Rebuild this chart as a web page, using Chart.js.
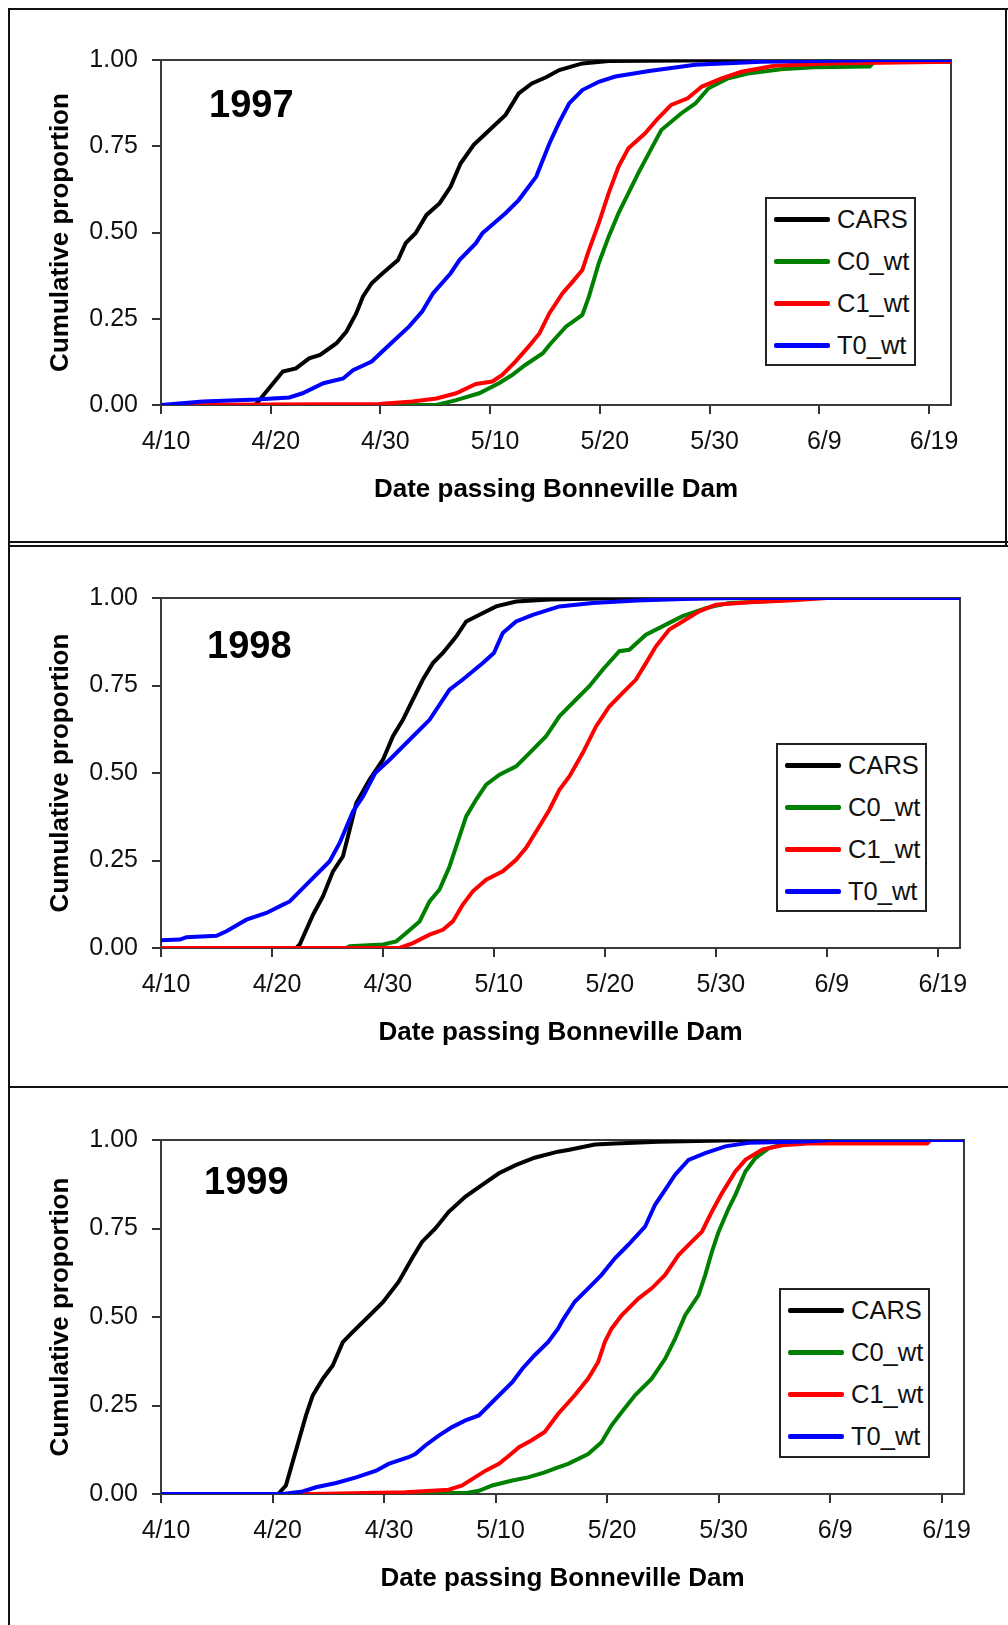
<!DOCTYPE html>
<html>
<head>
<meta charset="utf-8">
<script src="https://cdn.jsdelivr.net/npm/chart.js@4.4.0/dist/chart.umd.min.js"></script>
<style>
    body { margin: 0; background: #fff; width: 1008px; height: 1625px; position: relative; overflow: hidden;
           font-family: 'Liberation Sans', Arial, sans-serif; }
    canvas { position: absolute; left: 0; }
    .rule { position: absolute; background: #111; z-index: 2; }
    .year { position: absolute; font-weight: bold; font-size: 38px; line-height: 38px; color: #000; }
    .legend { position: absolute; border: 2px solid #222; box-sizing: border-box; background: #fff; }
    .legend .row { position: absolute; left: 0; height: 42px; display: flex; align-items: center;
                   font-size: 25.5px; color: #111; white-space: nowrap; }
    .legend .swatch { width: 56px; height: 5px; margin-left: 7px; margin-right: 7px; border-radius: 2px; }
</style>
</head>
<body>
<div class="rule" style="left:8px;top:8px;width:2px;height:1617px"></div>
<div class="rule" style="left:8px;top:8px;width:1000px;height:2px"></div>
<div class="rule" style="left:1005px;top:8px;width:2px;height:537px"></div>
<div class="rule" style="left:8px;top:541px;width:1000px;height:1.5px"></div>
<div class="rule" style="left:8px;top:545px;width:1000px;height:1.5px"></div>
<div class="rule" style="left:8px;top:1086px;width:1000px;height:2px"></div>

<canvas id="chart1997"></canvas>
<canvas id="chart1998"></canvas>
<canvas id="chart1999"></canvas>

<script>
// days counted from 4/10 (day 0), value = cumulative proportion
const dateTicks = ['4/10', '4/20', '4/30', '5/10', '5/20', '5/30', '6/9', '6/19']
const seriesNames = ['CARS', 'C0_wt', 'C1_wt', 'T0_wt']
const seriesColors = ['#000000', '#008000', '#ff0000', '#0000ff']

const cars1997 = [[0,0],[8.6,0],[11.1,0.097],[12.3,0.106],[13.5,0.135],[14.5,0.145],[16,0.179],[16.9,0.213],
    [17.8,0.266],[18.4,0.314],[19.2,0.353],[20.2,0.382],[21.6,0.42],[22.3,0.469],[23.2,0.498],[24.2,0.551],
    [25.4,0.585],[26.4,0.633],[27.3,0.7],[28.5,0.754],[29.6,0.787],[31.4,0.841],[32.6,0.903],[33.8,0.932],
    [35.1,0.95],[36.3,0.971],[38.4,0.99],[40.8,0.997],[54.7,1],[72,1]]
const c0wt1997 = [[0,0],[25.1,0],[26.9,0.014],[29,0.034],[30.8,0.063],[32,0.087],[33.2,0.116],[34.8,0.15],
    [35.4,0.174],[36.9,0.227],[38.4,0.261],[39,0.314],[39.9,0.411],[40.8,0.488],[41.7,0.556],[42.6,0.614],
    [43.5,0.672],[44.7,0.744],[45.6,0.797],[47.4,0.845],[48.7,0.874],[49.9,0.918],[51.7,0.947],[53.5,0.961],
    [56.5,0.973],[59.5,0.979],[64.6,0.981],[65,0.995],[72,0.995]]
const c1wt1997 = [[0,0],[19.9,0.003],[22.9,0.01],[25.1,0.019],[26.9,0.034],[28.7,0.061],[30.2,0.068],[31.1,0.087],
    [32.3,0.126],[33.5,0.169],[34.5,0.208],[35.4,0.266],[36.6,0.324],[37.5,0.357],[38.4,0.391],[39,0.449],
    [39.9,0.527],[40.8,0.614],[41.7,0.691],[42.6,0.744],[44.1,0.787],[45.3,0.831],[46.5,0.87],[48,0.889],
    [49.3,0.923],[51.1,0.947],[52.9,0.966],[55.9,0.983],[61.1,0.99],[72,0.995]]
const t0wt1997 = [[0,0],[3.8,0.01],[8.7,0.016],[11.7,0.022],[12.9,0.034],[14.8,0.063],[16.6,0.077],[17.5,0.101],
    [19.2,0.126],[20.8,0.174],[22.6,0.227],[23.8,0.271],[24.8,0.324],[26.4,0.382],[27.2,0.42],[28.7,0.469],
    [29.3,0.498],[30.5,0.531],[31.4,0.556],[32.6,0.594],[34.2,0.662],[34.8,0.71],[35.4,0.758],[36.3,0.82],
    [37.2,0.874],[38.4,0.913],[39.9,0.937],[41.4,0.952],[44.5,0.968],[48.7,0.986],[54.7,0.995],[65.6,1],[72,1]]

const cars1998 = [[0,0],[12.2,0],[12.5,0.01],[13.7,0.095],[14.6,0.148],[15.5,0.219],[16.4,0.262],[17,0.338],
    [17.6,0.414],[18.8,0.481],[20,0.538],[20.9,0.605],[21.8,0.652],[22.7,0.71],[23.6,0.767],[24.5,0.814],
    [25.4,0.843],[26.6,0.89],[27.5,0.933],[28.7,0.952],[30.2,0.976],[32,0.99],[35,0.996],[42,1],[72,1]]
const c0wt1998 = [[0,0],[16.7,0],[17,0.005],[20,0.01],[21.2,0.019],[22.1,0.043],[23.3,0.076],[24.2,0.133],
    [25.1,0.167],[26,0.233],[26.9,0.319],[27.5,0.376],[28.4,0.424],[29.3,0.467],[30.5,0.495],[32,0.519],
    [33.2,0.557],[34.7,0.605],[35.9,0.662],[37.4,0.71],[38.6,0.748],[39.8,0.795],[41.3,0.848],[42.2,0.852],
    [43.7,0.895],[45.5,0.924],[47,0.948],[49.1,0.971],[51.2,0.986],[54.2,0.99],[59,1],[72,1]]
const c1wt1998 = [[0,0],[21.5,0],[22.7,0.014],[24.2,0.038],[25.4,0.052],[26.3,0.076],[27.2,0.124],[28.1,0.162],
    [29.3,0.195],[30.8,0.219],[32,0.252],[32.9,0.286],[34.1,0.348],[35,0.395],[35.9,0.452],[36.8,0.49],
    [38,0.557],[39.2,0.633],[40.4,0.69],[41.6,0.729],[42.8,0.767],[43.7,0.814],[44.6,0.862],[45.8,0.91],
    [47,0.933],[48.5,0.962],[50,0.981],[53,0.988],[56.6,0.993],[60,1],[72,1]]
const t0wt1998 = [[0,0.022],[1.7,0.024],[2.3,0.031],[5,0.035],[5.9,0.048],[7.7,0.081],[9.5,0.1],[11,0.124],
    [11.6,0.133],[13.1,0.181],[15.2,0.248],[16.1,0.3],[17.3,0.39],[18.2,0.433],[19.3,0.5],[20.6,0.538],
    [22.4,0.595],[24.2,0.652],[26,0.738],[27.2,0.767],[29,0.814],[30,0.843],[30.8,0.9],[32,0.933],
    [33.5,0.952],[35.9,0.976],[38.9,0.986],[42.9,0.993],[47.1,0.997],[52,1],[72,1]]

const cars1999 = [[0,0],[10.5,0],[11.2,0.024],[11.8,0.09],[12.4,0.156],[13,0.222],[13.6,0.278],[14.5,0.325],
    [15.4,0.363],[16.3,0.429],[17.2,0.458],[18.4,0.495],[19.9,0.542],[21.3,0.599],[22.5,0.665],[23.4,0.712],
    [24.6,0.75],[25.8,0.797],[27.3,0.84],[28.8,0.873],[30.3,0.906],[31.8,0.929],[33.5,0.95],[35.6,0.967],
    [36.5,0.972],[38.9,0.987],[40.7,0.99],[44.6,0.995],[52.7,1],[72,1]]
const c0wt1999 = [[0,0],[17.8,0],[18,0.003],[27.4,0.003],[28.5,0.009],[29.7,0.024],[31.5,0.038],[32.9,0.047],
    [34.4,0.061],[35.6,0.075],[36.5,0.085],[38.3,0.113],[39.5,0.146],[40.4,0.194],[41.3,0.231],[42.5,0.279],
    [44,0.326],[45.2,0.382],[46.1,0.439],[47,0.505],[48.2,0.562],[48.8,0.619],[49.4,0.685],[50,0.741],
    [50.9,0.807],[51.5,0.845],[52.4,0.911],[53.3,0.949],[54.5,0.977],[55.7,0.987],[58,1],[72,1]]
const c1wt1999 = [[0,0],[13.6,0],[21.9,0.005],[25.8,0.012],[27,0.024],[27.9,0.042],[29.1,0.066],[30.3,0.085],
    [31.2,0.108],[32.1,0.132],[33.2,0.151],[34.4,0.175],[35.6,0.226],[37.1,0.279],[38.3,0.326],[39.2,0.373],
    [39.8,0.43],[40.4,0.467],[41.3,0.505],[42.8,0.552],[44,0.581],[45.2,0.619],[46.4,0.675],[47.6,0.713],
    [48.5,0.741],[49.4,0.798],[50.3,0.85],[51.5,0.911],[52.4,0.944],[53.9,0.973],[55.7,0.985],[58,0.99],
    [68.7,0.99],[69,1],[72,1]]
const t0wt1999 = [[0,0],[10.9,0],[12.7,0.007],[13.9,0.019],[15.7,0.031],[17.5,0.047],[19.3,0.066],[20.4,0.085],
    [22.2,0.104],[22.8,0.113],[23.7,0.137],[24.9,0.165],[26.1,0.189],[27.3,0.208],[28.5,0.222],[30,0.269],
    [31.5,0.316],[32.4,0.354],[33.5,0.392],[34.7,0.429],[35.6,0.467],[36,0.49],[37.1,0.543],[38.6,0.59],
    [39.5,0.619],[40.7,0.666],[41.9,0.704],[43.4,0.755],[44.3,0.817],[45.2,0.859],[46.1,0.902],[47.3,0.944],
    [48.8,0.963],[50.6,0.982],[52.7,0.992],[57.8,0.996],[60,1],[72,1]]

const fontFamily = "'Liberation Sans', Arial, sans-serif"

const panels = [
    {year: '1997', canvas: 'chart1997', top: 10, height: 530,
     plot: {left: 161, right: 951, top: 60, bottom: 405},
     yearPos: {left: 209, middle: 104}, legendBox: {left: 765, top: 197, width: 151, height: 169},
     series: [cars1997, c0wt1997, c1wt1997, t0wt1997]},
    {year: '1998', canvas: 'chart1998', top: 548, height: 537,
     plot: {left: 161, right: 960, top: 598, bottom: 948},
     yearPos: {left: 207, middle: 645}, legendBox: {left: 776, top: 743, width: 151, height: 169},
     series: [cars1998, c0wt1998, c1wt1998, t0wt1998]},
    {year: '1999', canvas: 'chart1999', top: 1090, height: 535,
     plot: {left: 161, right: 964, top: 1140, bottom: 1494},
     yearPos: {left: 204, middle: 1181}, legendBox: {left: 779, top: 1288, width: 151, height: 170},
     series: [cars1999, c0wt1999, c1wt1999, t0wt1999]},
]

// box round the plot area, drawn under the curves
const plotFrame = {
    id: 'plotFrame',
    beforeDatasetsDraw(chart) {
        const {ctx, chartArea} = chart
        ctx.save()
        ctx.strokeStyle = '#3a3a3a'
        ctx.lineWidth = 2
        ctx.strokeRect(chartArea.left, chartArea.top, chartArea.right - chartArea.left, chartArea.bottom - chartArea.top)
        ctx.restore()
    }
}

function renderLegend(chart, box){
    const legend = document.createElement('div')
    legend.className = 'legend'
    legend.style.left = box.left + 'px'
    legend.style.top = box.top + 'px'
    legend.style.width = box.width + 'px'
    legend.style.height = box.height + 'px'

    chart.data.datasets.forEach((dataset, i) => {
        const row = document.createElement('div')
        row.className = 'row'
        row.style.top = (42 * i - 1) + 'px'
        const swatch = document.createElement('span')
        swatch.className = 'swatch'
        swatch.style.background = dataset.borderColor
        const label = document.createElement('span')
        label.textContent = dataset.label
        row.appendChild(swatch)
        row.appendChild(label)
        legend.appendChild(row)
    })
    document.body.appendChild(legend)
}

function renderPanel(panel){
    const canvas = document.getElementById(panel.canvas)
    canvas.width = 1008
    canvas.height = panel.height
    canvas.style.top = panel.top + 'px'

    const xAxisHeight = panel.top + panel.height - panel.plot.bottom
    const xTitlePad = panel.top + panel.height - (panel.plot.bottom + 85) - 15.6

    const chart = new Chart(canvas.getContext('2d'), {
        type: 'line',
        data: {
            datasets: seriesNames.map((name, i) => ({
                label: name,
                data: panel.series[i],
                borderColor: seriesColors[i],
                backgroundColor: seriesColors[i],
                borderWidth: 4,
                pointRadius: 0,
                tension: 0,
                fill: false,
                order: seriesNames.length - i
            }))
        },
        options: {
            responsive: false,
            animation: false,
            events: [],
            layout: {padding: {left: 0, top: panel.plot.top - panel.top, right: 1008 - panel.plot.right, bottom: 0}},
            plugins: {legend: {display: false}, tooltip: {enabled: false}},
            scales: {
                x: {
                    type: 'linear', min: 0, max: 72,
                    afterFit: scale => { scale.height = xAxisHeight },
                    border: {display: false},
                    grid: {drawOnChartArea: false, tickLength: 9, color: '#333', lineWidth: 2},
                    ticks: {
                        stepSize: 10, includeBounds: false, autoSkip: false, maxRotation: 0,
                        padding: 13, labelOffset: 5, color: '#111',
                        font: {family: fontFamily, size: 25},
                        callback: value => dateTicks[Math.round(value / 10)]
                    },
                    title: {
                        display: true, text: 'Date passing Bonneville Dam', color: '#000',
                        font: {family: fontFamily, size: 26, weight: 'bold'},
                        padding: {top: 0, bottom: xTitlePad}
                    }
                },
                y: {
                    min: 0, max: 1,
                    afterFit: scale => { scale.width = panel.plot.left },
                    border: {display: false},
                    grid: {drawOnChartArea: false, tickLength: 9, color: '#333', lineWidth: 2},
                    ticks: {
                        stepSize: 0.25, padding: 14, color: '#111',
                        font: {family: fontFamily, size: 25},
                        callback: value => value.toFixed(2)
                    },
                    title: {
                        display: true, text: 'Cumulative proportion', color: '#000',
                        font: {family: fontFamily, size: 26, weight: 'bold'},
                        padding: {top: 45, bottom: 0}
                    }
                }
            }
        },
        plugins: [plotFrame]
    })

    const year = document.createElement('div')
    year.className = 'year'
    year.textContent = panel.year
    year.style.left = panel.yearPos.left + 'px'
    year.style.top = (panel.yearPos.middle - 19) + 'px'
    document.body.appendChild(year)

    renderLegend(chart, panel.legendBox)
    return chart
}

document.addEventListener('DOMContentLoaded', () => {
    panels.forEach(panel => renderPanel(panel))
})
</script>
</body>
</html>
